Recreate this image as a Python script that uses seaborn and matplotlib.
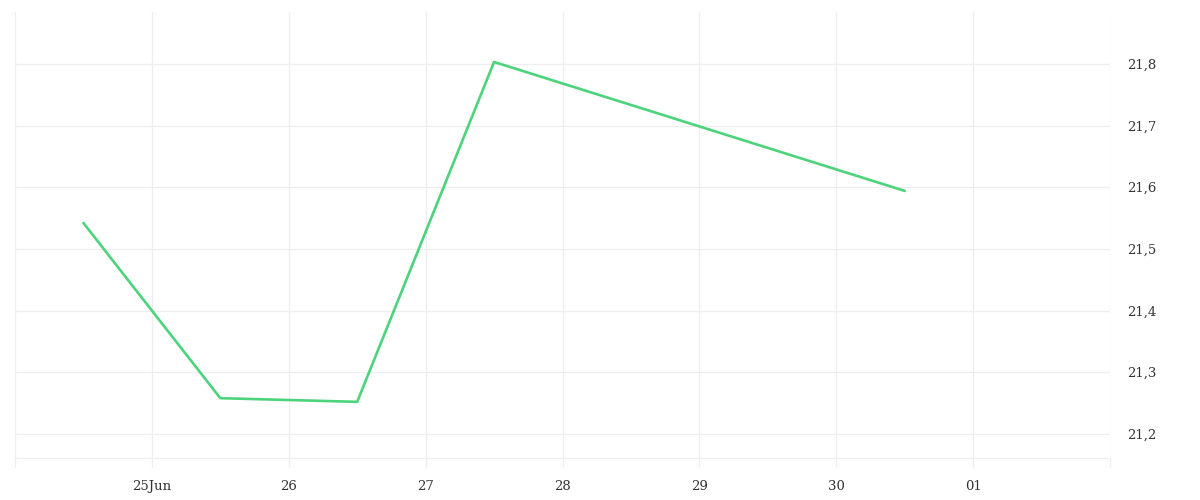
import seaborn as sns
import pandas as pd
import numpy as np
import matplotlib.pyplot as plt
import matplotlib.dates as mdates
from matplotlib.ticker import FixedLocator, FuncFormatter

# series: one reading per day at midday
dates = ['2023-06-24 12:00', '2023-06-25 12:00', '2023-06-26 12:00', '2023-06-27 12:00', '2023-06-30 12:00']
values = [21.542, 21.258, 21.252, 21.803, 21.594]

# day ticks and their labels (first and last day left empty)
tick_days = ['2023-06-24', '2023-06-25', '2023-06-26', '2023-06-27', '2023-06-28',
             '2023-06-29', '2023-06-30', '2023-07-01', '2023-07-02']
tick_labels = ['', '25Jun', '26', '27', '28', '29', '30', '01', '']
y_ticks = [21.2, 21.3, 21.4, 21.5, 21.6, 21.7, 21.8]

df = pd.DataFrame({'date': pd.to_datetime(dates), 'value': values})

sns.set_style('white')
plt.rcParams['font.family'] = ['DejaVu Serif']

grid = '#eeeeee'
fig = plt.figure(figsize=(12, 5), dpi=100)
ax = fig.add_axes([0.0125, 0.084, 0.9125, 0.892])

sns.lineplot(data=df, x='date', y='value', ax=ax, color='#4cd37b', linewidth=1.9)

ticks = mdates.date2num(pd.to_datetime(tick_days))
ax.set_xlim(ticks[0], ticks[-1])
ax.set_ylim(21.161, 21.884)
ax.xaxis.set_major_locator(FixedLocator(ticks))
ax.set_xticklabels(tick_labels)
ax.yaxis.set_major_locator(FixedLocator(y_ticks))
ax.yaxis.set_major_formatter(FuncFormatter(lambda v, p: f'{v:.1f}'.replace('.', ',')))
ax.yaxis.tick_right()

ax.grid(True, color=grid, linewidth=0.9)
for s in ['top', 'left', 'right']:
    ax.spines[s].set_visible(False)
ax.spines['bottom'].set_color(grid)
ax.spines['bottom'].set_linewidth(0.9)

ax.tick_params(axis='x', bottom=True, length=6.5, color=grid, width=0.9, pad=9, labelsize=9.5, labelcolor='#333333')
ax.tick_params(axis='y', length=0, pad=12, labelsize=9.5, labelcolor='#333333')
ax.set_xlabel('')
ax.set_ylabel('')

plt.savefig('out.png', dpi=100)
